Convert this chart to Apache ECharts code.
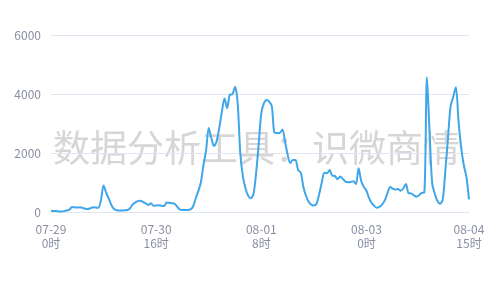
<!DOCTYPE html>
<html><head><meta charset="utf-8">
<script src="https://cdn.jsdelivr.net/npm/echarts@6/dist/echarts.min.js"></script>
<style>html,body{margin:0;padding:0;background:#fff}#c{width:500px;height:300px}</style>
</head><body><div id="c"></div>
<script>
const values = [
  50,30,30,20,20,30,50,80,170,160,
  150,160,140,110,100,130,160,150,140,400,
  900,650,450,230,100,60,50,50,60,70,
  120,250,320,370,380,340,290,240,300,210,
  220,230,210,200,320,310,300,280,180,80,
  70,70,70,90,180,450,700,1000,1600,2100,
  2850,2500,2240,2400,2850,3400,3850,3520,3970,3990,
  4250,3700,2000,1200,800,550,470,600,1300,2300,
  3350,3690,3800,3740,3580,2690,2680,2680,2800,2400,
  1950,1660,1760,1760,1420,1340,850,550,350,250,
  220,280,600,1000,1330,1310,1420,1230,1220,1110,
  1200,1120,1030,1010,1020,1040,950,1480,1050,850,
  720,470,300,200,140,180,260,400,650,850,
  790,760,780,720,800,950,640,630,570,520,
  570,650,660,4570,2700,970,620,370,280,420,
  1400,2500,3590,3900,4230,3100,2200,1600,1200,430
];
const dayNames = ['07-29','07-30','07-31','08-01','08-02','08-03','08-04'];
const categories = values.map((v,i)=> dayNames[Math.floor(i/24)] + '\n' + (i%24) + '时');
const yTicks = {min:0, max:6000, interval:2000};
const watermark = '数据分析工具：识微商情';

const chart = echarts.init(document.getElementById('c'));
chart.setOption({
  animation:false,
  grid:{left:51,right:31,top:35,bottom:88},
  textStyle:{fontFamily:'"Noto Sans CJK SC", sans-serif'},
  xAxis:{type:'category',data:categories,boundaryGap:false,
    axisLine:{lineStyle:{color:'#E0E6F1'}},axisTick:{show:false},
    axisLabel:{color:'#8a8ea3',fontSize:12,lineHeight:14,margin:10,
      interval:(i)=> i%40===0 || i===values.length-1,
      showMaxLabel:true}},
  yAxis:{type:'value',min:yTicks.min,max:yTicks.max,interval:yTicks.interval,
    axisLabel:{color:'#8a8ea3',fontSize:12,margin:10,formatter:(v)=>String(v)},
    splitLine:{lineStyle:{color:'#E0E6F1'}}},
  graphic:[{type:'text',left:53,top:129,z:-1,silent:true,
    style:{text:watermark,fontSize:37,fill:'rgba(200,200,200,0.75)',fontFamily:'"Noto Sans CJK SC", sans-serif'}}],
  series:[{type:'line',data:values,showSymbol:false,smooth:0.3,
    lineStyle:{color:'#3ea6e9',width:2},itemStyle:{color:'#3ea6e9'}}]
});
</script></body></html>
